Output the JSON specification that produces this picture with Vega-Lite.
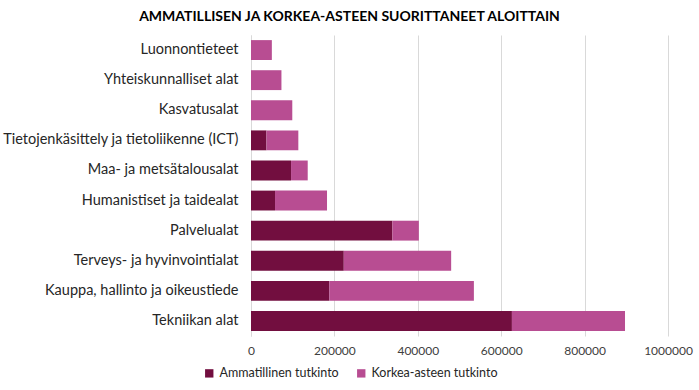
{
  "$schema": "https://vega.github.io/schema/vega-lite/v6.json",
  "autosize": {"type": "none"},
  "width": 417,
  "height": 301,
  "padding": {"left": 251, "top": 35, "right": 31, "bottom": 54},
  "background": "white",
  "title": {
    "text": "AMMATILLISEN JA KORKEA-ASTEEN SUORITTANEET ALOITTAIN",
    "anchor": "middle",
    "dx": -110,
    "offset": 11,
    "font": "Lato",
    "fontSize": 14,
    "fontWeight": "bold",
    "color": "#000000"
  },
  "data": {
    "values": [
      {"ala": "Luonnontieteet", "tutkinto": "Ammatillinen tutkinto", "k": 1, "arvo": 0},
      {"ala": "Luonnontieteet", "tutkinto": "Korkea-asteen tutkinto", "k": 2, "arvo": 50000},
      {"ala": "Yhteiskunnalliset alat", "tutkinto": "Ammatillinen tutkinto", "k": 1, "arvo": 0},
      {"ala": "Yhteiskunnalliset alat", "tutkinto": "Korkea-asteen tutkinto", "k": 2, "arvo": 73000},
      {"ala": "Kasvatusalat", "tutkinto": "Ammatillinen tutkinto", "k": 1, "arvo": 0},
      {"ala": "Kasvatusalat", "tutkinto": "Korkea-asteen tutkinto", "k": 2, "arvo": 99000},
      {"ala": "Tietojenkäsittely ja tietoliikenne (ICT)", "tutkinto": "Ammatillinen tutkinto", "k": 1, "arvo": 37000},
      {"ala": "Tietojenkäsittely ja tietoliikenne (ICT)", "tutkinto": "Korkea-asteen tutkinto", "k": 2, "arvo": 76500},
      {"ala": "Maa- ja metsätalousalat", "tutkinto": "Ammatillinen tutkinto", "k": 1, "arvo": 96000},
      {"ala": "Maa- ja metsätalousalat", "tutkinto": "Korkea-asteen tutkinto", "k": 2, "arvo": 40000},
      {"ala": "Humanistiset ja taidealat", "tutkinto": "Ammatillinen tutkinto", "k": 1, "arvo": 57600},
      {"ala": "Humanistiset ja taidealat", "tutkinto": "Korkea-asteen tutkinto", "k": 2, "arvo": 124700},
      {"ala": "Palvelualat", "tutkinto": "Ammatillinen tutkinto", "k": 1, "arvo": 339000},
      {"ala": "Palvelualat", "tutkinto": "Korkea-asteen tutkinto", "k": 2, "arvo": 63500},
      {"ala": "Terveys- ja hyvinvointialat", "tutkinto": "Ammatillinen tutkinto", "k": 1, "arvo": 222500},
      {"ala": "Terveys- ja hyvinvointialat", "tutkinto": "Korkea-asteen tutkinto", "k": 2, "arvo": 257500},
      {"ala": "Kauppa, hallinto ja oikeustiede", "tutkinto": "Ammatillinen tutkinto", "k": 1, "arvo": 188000},
      {"ala": "Kauppa, hallinto ja oikeustiede", "tutkinto": "Korkea-asteen tutkinto", "k": 2, "arvo": 346500},
      {"ala": "Tekniikan alat", "tutkinto": "Ammatillinen tutkinto", "k": 1, "arvo": 625700},
      {"ala": "Tekniikan alat", "tutkinto": "Korkea-asteen tutkinto", "k": 2, "arvo": 271200}
    ]
  },
  "mark": {"type": "bar"},
  "encoding": {
    "y": {
      "field": "ala",
      "type": "nominal",
      "sort": ["Luonnontieteet", "Yhteiskunnalliset alat", "Kasvatusalat", "Tietojenkäsittely ja tietoliikenne (ICT)", "Maa- ja metsätalousalat", "Humanistiset ja taidealat", "Palvelualat", "Terveys- ja hyvinvointialat", "Kauppa, hallinto ja oikeustiede", "Tekniikan alat"],
      "scale": {"paddingInner": 0.34, "paddingOuter": 0.17},
      "axis": {
        "title": null,
        "ticks": false,
        "domain": true,
        "domainColor": "#d9d9d9",
        "labelFont": "Lato",
        "labelFontSize": 14.5,
        "labelColor": "#262626",
        "labelPadding": 13,
        "labelLimit": 300
      }
    },
    "x": {
      "field": "arvo",
      "type": "quantitative",
      "stack": "zero",
      "scale": {"domain": [0, 1000000], "nice": false},
      "axis": {
        "title": null,
        "values": [0, 200000, 400000, 600000, 800000, 1000000],
        "format": "d",
        "domain": false,
        "ticks": false,
        "grid": true,
        "gridColor": "#d9d9d9",
        "labelFont": "Lato",
        "labelFontSize": 12,
        "labelColor": "#404040",
        "labelPadding": 9,
        "labelFlush": false
      }
    },
    "color": {
      "field": "tutkinto",
      "type": "nominal",
      "scale": {"domain": ["Ammatillinen tutkinto", "Korkea-asteen tutkinto"], "range": ["#720e3f", "#b84d92"]},
      "legend": {
        "title": null,
        "orient": "none",
        "direction": "horizontal",
        "legendX": -48,
        "legendY": 332,
        "symbolType": "square",
        "symbolSize": 70,
        "symbolStrokeWidth": 0,
        "labelFont": "Lato",
        "labelFontSize": 12.5,
        "labelColor": "#262626",
        "columnPadding": 16,
        "labelOffset": 4
      }
    },
    "order": {"field": "k", "type": "quantitative"}
  },
  "config": {"view": {"stroke": null}}
}
